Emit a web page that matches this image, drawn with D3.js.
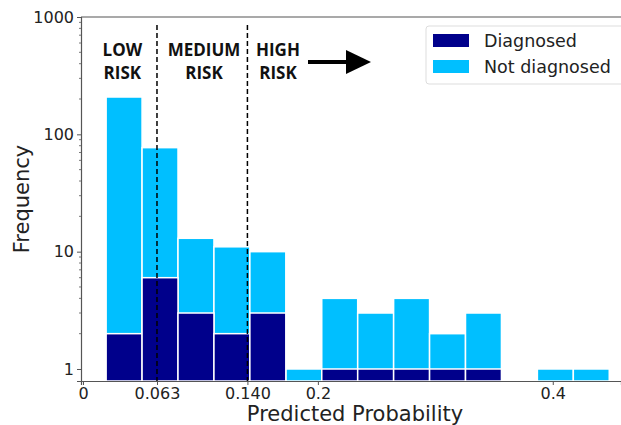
<!DOCTYPE html>
<html>
<head>
<meta charset="utf-8">
<script src="https://cdn.jsdelivr.net/npm/d3@7"></script>
<style>
  html, body { margin: 0; background: #fff; overflow: hidden; }
  svg { display: block; font-family: "DejaVu Sans", sans-serif; }
</style>
</head>
<body>
<div id="chart"></div>
<script>
// bins of predicted probability (left edges), width
var binStart = 0.0197;
var binWidth = 0.0306;
var diagnosed =    [2, 6, 3, 2, 3, 0, 1, 1, 1, 1, 1, 0, 0, 0];
var notDiagnosed = [206, 71, 10, 9, 7, 1, 3, 2, 3, 1, 2, 0, 1, 1];
var xTicks = [0, 0.063, 0.140, 0.2, 0.4];
var xTickLabels = ["0", "0.063", "0.140", "0.2", "0.4"];
var yTicks = [1, 10, 100, 1000];
var cutoffs = [0.063, 0.140];
var riskLabels = [["LOW", "RISK"], ["MEDIUM", "RISK"], ["HIGH", "RISK"]];
var riskCenters = [0.0335, 0.103, 0.166];
var seriesNames = ["Diagnosed", "Not diagnosed"];
var colors = ["#00008b", "#00bfff"];

var W = 621, H = 425;
var margin = { top: 17, right: 0, bottom: 44, left: 81 };
var width = W - margin.left - margin.right,
    height = H - margin.top - margin.bottom;

var svg = d3.select("#chart").append("svg")
  .attr("width", W).attr("height", H);

var x = d3.scaleLinear().domain([-0.0017, 0.4581]).range([0, width]);
var y = d3.scaleLog().domain([0.79, 1000]).range([height, 0]);

var g = svg.append("g")
  .attr("transform", "translate(" + margin.left + "," + margin.top + ")");

// bars, stacked
var bins = diagnosed.map(function (d, i) {
  return { x0: binStart + i * binWidth, x1: binStart + (i + 1) * binWidth,
           diag: d, total: d + notDiagnosed[i] };
});

g.selectAll(".bar-nd").data(bins.filter(function (d) { return d.total > 0; }))
  .enter().append("rect")
  .attr("x", function (d) { return x(d.x0); })
  .attr("width", function (d) { return x(d.x1) - x(d.x0); })
  .attr("y", function (d) { return y(d.total); })
  .attr("height", function (d) { return height - y(d.total); })
  .attr("fill", colors[1])
  .attr("stroke", "#fff").attr("stroke-width", 1.5);

g.selectAll(".bar-d").data(bins.filter(function (d) { return d.diag > 0; }))
  .enter().append("rect")
  .attr("x", function (d) { return x(d.x0); })
  .attr("width", function (d) { return x(d.x1) - x(d.x0); })
  .attr("y", function (d) { return y(d.diag); })
  .attr("height", function (d) { return height - y(d.diag); })
  .attr("fill", colors[0])
  .attr("stroke", "#fff").attr("stroke-width", 1.5);

// dashed cutoff lines
g.selectAll(".cut").data(cutoffs).enter().append("line")
  .attr("x1", function (d) { return x(d); })
  .attr("x2", function (d) { return x(d); })
  .attr("y1", 8).attr("y2", height)
  .attr("stroke", "#000").attr("stroke-width", 1.5)
  .attr("stroke-dasharray", "5,3");

// axes
var xAxis = g.append("g")
  .attr("transform", "translate(0," + height + ")")
  .call(d3.axisBottom(x).tickValues(xTicks)
    .tickFormat(function (d, i) { return xTickLabels[i]; })
    .tickSizeOuter(0).tickSize(4).tickPadding(3));

var yAxis = g.append("g")
  .call(d3.axisLeft(y).tickValues(yTicks).tickFormat(d3.format("d"))
    .tickSizeOuter(0).tickSize(4).tickPadding(3));

// minor ticks
var minor = [];
[1, 10, 100].forEach(function (dec) {
  for (var k = 2; k <= 9; k++) minor.push(dec * k);
});
yAxis.selectAll(".minor").data(minor).enter().append("line")
  .attr("x1", 0).attr("x2", -2)
  .attr("y1", function (d) { return y(d); })
  .attr("y2", function (d) { return y(d); })
  .attr("stroke", "#555").attr("stroke-width", 0.8);

[xAxis, yAxis].forEach(function (a) {
  a.select(".domain").attr("stroke", "#555").attr("stroke-width", 1.2);
  a.selectAll(".tick line").attr("stroke", "#555");
  a.selectAll("text").attr("font-size", 16).attr("fill", "#222")
    .attr("font-family", "DejaVu Sans, sans-serif");
});

// top spine
g.append("line").attr("x1", 0).attr("x2", width).attr("y1", 0).attr("y2", 0)
  .attr("stroke", "#555").attr("stroke-width", 1.2);

// axis labels
svg.append("text")
  .attr("x", 355).attr("y", 421)
  .attr("text-anchor", "middle").attr("font-size", 21).attr("fill", "#222")
  .text("Predicted Probability");

svg.append("text")
  .attr("transform", "translate(29," + (margin.top + height / 2) + ") rotate(-90)")
  .attr("text-anchor", "middle").attr("font-size", 21).attr("fill", "#222")
  .text("Frequency");

// risk labels
riskLabels.forEach(function (lines, i) {
  var t = g.append("text")
    .attr("x", x(riskCenters[i]))
    .attr("text-anchor", "middle")
    .attr("font-family", "Open Sans, sans-serif")
    .attr("font-weight", 700).attr("font-size", 17).attr("fill", "#111");
  lines.forEach(function (s, j) {
    t.append("tspan").attr("x", x(riskCenters[i])).attr("y", 39 + j * 23).text(s);
  });
});

// arrow
var ay = 45;
g.append("line").attr("x1", 227).attr("x2", 266).attr("y1", ay).attr("y2", ay)
  .attr("stroke", "#000").attr("stroke-width", 4);
g.append("path")
  .attr("d", "M265," + (ay - 12) + "L290," + ay + "L265," + (ay + 12) + "Z")
  .attr("fill", "#000");

// legend
var lg = svg.append("g").attr("transform", "translate(426,26)");
lg.append("rect").attr("width", 200).attr("height", 58).attr("rx", 3)
  .attr("fill", "#fff").attr("stroke", "#ddd");
seriesNames.forEach(function (n, i) {
  lg.append("rect").attr("x", 7).attr("y", 8 + i * 26).attr("width", 36).attr("height", 13)
    .attr("fill", colors[i]);
  lg.append("text").attr("x", 58).attr("y", 21 + i * 26)
    .attr("font-size", 17.5).attr("fill", "#222").text(n);
});
</script>
</body>
</html>
